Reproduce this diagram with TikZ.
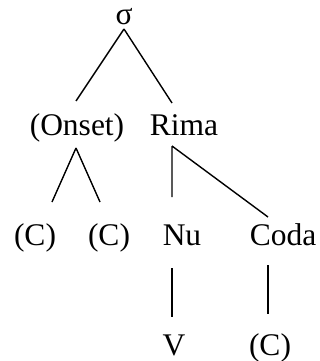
\documentclass[tikz,border=0pt]{standalone}
\usepackage{fontspec}
\setmainfont{Liberation Serif}
\usepackage{tikz}

\begin{document}
\begin{tikzpicture}[x=1pt,y=-1pt,
  lbl/.style={anchor=base,inner sep=0pt,font=\fontsize{31.5}{36}\selectfont},
  branch/.style={line width=1.4pt}]
  \useasboundingbox (0,0) rectangle (320,361);
  % Place the labels of the syllable tree
  \path (124,25) node[lbl] (S) {σ};
  \path (77,135) node[lbl] (On) {(Onset)};
  \path (184,135) node[lbl] (Ri) {Rima};
  \path (35,245) node[lbl] (C1) {(C)};
  \path (109,245) node[lbl] (C2) {(C)};
  \path (182,245) node[lbl] (Nu) {Nu};
  \path (283,245) node[lbl] (Co) {Coda};
  \path (174,355) node[lbl] (V) {V};
  \path (270,355) node[lbl] (C3) {(C)};
  % Draw the branches
  \draw[branch] ([shift={(0,4)}]S.base) -- ([shift={(-1,-34)}]On.base)
    ([shift={(0,4)}]S.base) -- ([shift={(-12,-32)}]Ri.base);
  \draw[branch] ([shift={(-1,13)}]On.base) -- ([shift={(17,-43)}]C1.base)
    ([shift={(-1,13)}]On.base) -- ([shift={(-9,-43)}]C2.base);
  \draw[branch] ([shift={(-12,11)}]Ri.base) -- ([shift={(-10,-48)}]Nu.base)
    ([shift={(-12,11)}]Ri.base) -- ([shift={(-15,-28)}]Co.base);
  \draw[branch] ([shift={(-10,23)}]Nu.base) -- ([shift={(-2,-38)}]V.base)
    ([shift={(-15,20)}]Co.base) -- ([shift={(-2,-41)}]C3.base);
\end{tikzpicture}
\end{document}
